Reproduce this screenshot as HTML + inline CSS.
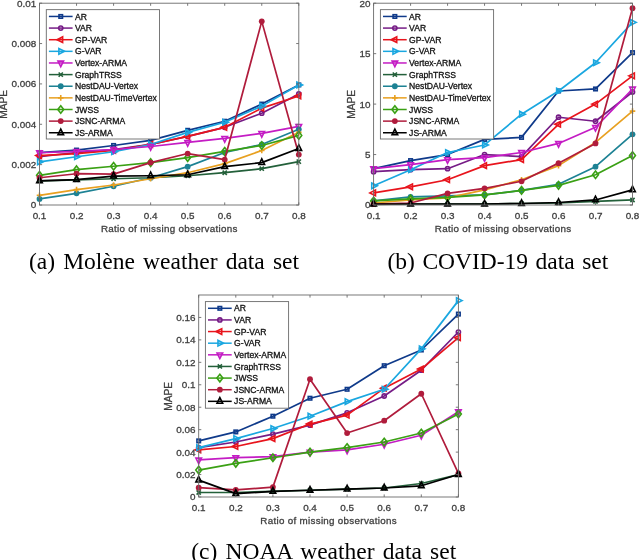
<!DOCTYPE html>
<html><head><meta charset="utf-8"><style>
html,body{margin:0;padding:0;background:#fff;width:640px;height:560px;overflow:hidden}
svg{display:block;will-change:transform;font-family:"Liberation Sans",sans-serif}
text.t{stroke:#404040;stroke-width:0.3px}
text.l{stroke:#111;stroke-width:0.3px}
</style></head><body>
<svg width="640" height="560" viewBox="0 0 640 560">
<rect width="640" height="560" fill="#fff"/>
<polyline points="39.50,152.53 76.54,150.11 113.59,145.47 150.63,140.42 187.67,130.33 224.71,121.25 261.76,104.10 298.80,84.93" fill="none" stroke="#0f3a8a" stroke-width="1.7" stroke-linejoin="round"/>
<rect x="37.75" y="150.78" width="3.50" height="3.50" fill="none" stroke="#0f3a8a" stroke-width="1.6"/>
<rect x="74.79" y="148.36" width="3.50" height="3.50" fill="none" stroke="#0f3a8a" stroke-width="1.6"/>
<rect x="111.84" y="143.72" width="3.50" height="3.50" fill="none" stroke="#0f3a8a" stroke-width="1.6"/>
<rect x="148.88" y="138.67" width="3.50" height="3.50" fill="none" stroke="#0f3a8a" stroke-width="1.6"/>
<rect x="185.92" y="128.58" width="3.50" height="3.50" fill="none" stroke="#0f3a8a" stroke-width="1.6"/>
<rect x="222.96" y="119.50" width="3.50" height="3.50" fill="none" stroke="#0f3a8a" stroke-width="1.6"/>
<rect x="260.01" y="102.35" width="3.50" height="3.50" fill="none" stroke="#0f3a8a" stroke-width="1.6"/>
<rect x="297.05" y="83.18" width="3.50" height="3.50" fill="none" stroke="#0f3a8a" stroke-width="1.6"/>
<polyline points="39.50,156.57 76.54,152.53 113.59,149.50 150.63,144.46 187.67,136.39 224.71,127.31 261.76,113.18 298.80,94.01" fill="none" stroke="#761c86" stroke-width="1.7" stroke-linejoin="round"/>
<circle cx="39.50" cy="156.57" r="2.1" fill="none" stroke="#761c86" stroke-width="1.6"/>
<circle cx="76.54" cy="152.53" r="2.1" fill="none" stroke="#761c86" stroke-width="1.6"/>
<circle cx="113.59" cy="149.50" r="2.1" fill="none" stroke="#761c86" stroke-width="1.6"/>
<circle cx="150.63" cy="144.46" r="2.1" fill="none" stroke="#761c86" stroke-width="1.6"/>
<circle cx="187.67" cy="136.39" r="2.1" fill="none" stroke="#761c86" stroke-width="1.6"/>
<circle cx="224.71" cy="127.31" r="2.1" fill="none" stroke="#761c86" stroke-width="1.6"/>
<circle cx="261.76" cy="113.18" r="2.1" fill="none" stroke="#761c86" stroke-width="1.6"/>
<circle cx="298.80" cy="94.01" r="2.1" fill="none" stroke="#761c86" stroke-width="1.6"/>
<polyline points="39.50,155.56 76.54,153.54 113.59,150.51 150.63,144.46 187.67,136.39 224.71,127.31 261.76,108.14 298.80,96.03" fill="none" stroke="#e8141c" stroke-width="1.7" stroke-linejoin="round"/>
<path d="M35.77,155.56L41.37,152.76L41.37,158.36Z" fill="none" stroke="#e8141c" stroke-width="1.6"/>
<path d="M72.81,153.54L78.41,150.74L78.41,156.34Z" fill="none" stroke="#e8141c" stroke-width="1.6"/>
<path d="M109.85,150.51L115.45,147.71L115.45,153.31Z" fill="none" stroke="#e8141c" stroke-width="1.6"/>
<path d="M146.90,144.46L152.50,141.66L152.50,147.26Z" fill="none" stroke="#e8141c" stroke-width="1.6"/>
<path d="M183.94,136.39L189.54,133.59L189.54,139.19Z" fill="none" stroke="#e8141c" stroke-width="1.6"/>
<path d="M220.98,127.31L226.58,124.51L226.58,130.11Z" fill="none" stroke="#e8141c" stroke-width="1.6"/>
<path d="M258.02,108.14L263.62,105.34L263.62,110.94Z" fill="none" stroke="#e8141c" stroke-width="1.6"/>
<path d="M295.07,96.03L300.67,93.23L300.67,98.83Z" fill="none" stroke="#e8141c" stroke-width="1.6"/>
<polyline points="39.50,161.81 76.54,156.77 113.59,151.72 150.63,144.46 187.67,132.35 224.71,122.26 261.76,106.12 298.80,84.93" fill="none" stroke="#1aa7e0" stroke-width="1.7" stroke-linejoin="round"/>
<path d="M43.23,161.81L37.63,159.01L37.63,164.61Z" fill="none" stroke="#1aa7e0" stroke-width="1.6"/>
<path d="M80.28,156.77L74.68,153.97L74.68,159.57Z" fill="none" stroke="#1aa7e0" stroke-width="1.6"/>
<path d="M117.32,151.72L111.72,148.92L111.72,154.52Z" fill="none" stroke="#1aa7e0" stroke-width="1.6"/>
<path d="M154.36,144.46L148.76,141.66L148.76,147.26Z" fill="none" stroke="#1aa7e0" stroke-width="1.6"/>
<path d="M191.40,132.35L185.80,129.55L185.80,135.15Z" fill="none" stroke="#1aa7e0" stroke-width="1.6"/>
<path d="M228.45,122.26L222.85,119.46L222.85,125.06Z" fill="none" stroke="#1aa7e0" stroke-width="1.6"/>
<path d="M265.49,106.12L259.89,103.32L259.89,108.92Z" fill="none" stroke="#1aa7e0" stroke-width="1.6"/>
<path d="M302.53,84.93L296.93,82.13L296.93,87.73Z" fill="none" stroke="#1aa7e0" stroke-width="1.6"/>
<polyline points="39.50,152.73 76.54,151.32 113.59,149.50 150.63,146.48 187.67,142.44 224.71,138.41 261.76,133.36 298.80,126.30" fill="none" stroke="#c41cc4" stroke-width="1.7" stroke-linejoin="round"/>
<path d="M39.50,156.47L36.70,150.87L42.30,150.87Z" fill="none" stroke="#c41cc4" stroke-width="1.6"/>
<path d="M76.54,155.05L73.74,149.45L79.34,149.45Z" fill="none" stroke="#c41cc4" stroke-width="1.6"/>
<path d="M113.59,153.24L110.79,147.64L116.39,147.64Z" fill="none" stroke="#c41cc4" stroke-width="1.6"/>
<path d="M150.63,150.21L147.83,144.61L153.43,144.61Z" fill="none" stroke="#c41cc4" stroke-width="1.6"/>
<path d="M187.67,146.18L184.87,140.58L190.47,140.58Z" fill="none" stroke="#c41cc4" stroke-width="1.6"/>
<path d="M224.71,142.14L221.91,136.54L227.51,136.54Z" fill="none" stroke="#c41cc4" stroke-width="1.6"/>
<path d="M261.76,137.09L258.96,131.49L264.56,131.49Z" fill="none" stroke="#c41cc4" stroke-width="1.6"/>
<path d="M298.80,130.03L296.00,124.43L301.60,124.43Z" fill="none" stroke="#c41cc4" stroke-width="1.6"/>
<polyline points="39.50,180.78 76.54,179.78 113.59,178.77 150.63,177.76 187.67,175.74 224.71,172.71 261.76,168.68 298.80,161.61" fill="none" stroke="#23603a" stroke-width="1.7" stroke-linejoin="round"/>
<path d="M37.40,178.68L41.60,182.88M37.40,182.88L41.60,178.68" stroke="#23603a" stroke-width="1.6"/>
<path d="M74.44,177.68L78.64,181.88M74.44,181.88L78.64,177.68" stroke="#23603a" stroke-width="1.6"/>
<path d="M111.49,176.67L115.69,180.87M111.49,180.87L115.69,176.67" stroke="#23603a" stroke-width="1.6"/>
<path d="M148.53,175.66L152.73,179.86M148.53,179.86L152.73,175.66" stroke="#23603a" stroke-width="1.6"/>
<path d="M185.57,173.64L189.77,177.84M185.57,177.84L189.77,173.64" stroke="#23603a" stroke-width="1.6"/>
<path d="M222.61,170.61L226.81,174.81M222.61,174.81L226.81,170.61" stroke="#23603a" stroke-width="1.6"/>
<path d="M259.66,166.58L263.86,170.78M259.66,170.78L263.86,166.58" stroke="#23603a" stroke-width="1.6"/>
<path d="M296.70,159.51L300.90,163.71M296.70,163.71L300.90,159.51" stroke="#23603a" stroke-width="1.6"/>
<polyline points="39.50,198.95 76.54,193.30 113.59,186.23 150.63,177.76 187.67,166.66 224.71,152.53 261.76,144.46 298.80,129.32" fill="none" stroke="#1d8294" stroke-width="1.7" stroke-linejoin="round"/>
<circle cx="39.50" cy="198.95" r="2.9" fill="#1d8294"/>
<circle cx="76.54" cy="193.30" r="2.9" fill="#1d8294"/>
<circle cx="113.59" cy="186.23" r="2.9" fill="#1d8294"/>
<circle cx="150.63" cy="177.76" r="2.9" fill="#1d8294"/>
<circle cx="187.67" cy="166.66" r="2.9" fill="#1d8294"/>
<circle cx="224.71" cy="152.53" r="2.9" fill="#1d8294"/>
<circle cx="261.76" cy="144.46" r="2.9" fill="#1d8294"/>
<circle cx="298.80" cy="129.32" r="2.9" fill="#1d8294"/>
<polyline points="39.50,195.31 76.54,189.66 113.59,185.02 150.63,178.77 187.67,172.71 224.71,163.63 261.76,150.51 298.80,132.35" fill="none" stroke="#e8a020" stroke-width="1.7" stroke-linejoin="round"/>
<path d="M36.70,195.31L42.30,195.31M39.50,192.51L39.50,198.11" stroke="#e8a020" stroke-width="1.6"/>
<path d="M73.74,189.66L79.34,189.66M76.54,186.86L76.54,192.46" stroke="#e8a020" stroke-width="1.6"/>
<path d="M110.79,185.02L116.39,185.02M113.59,182.22L113.59,187.82" stroke="#e8a020" stroke-width="1.6"/>
<path d="M147.83,178.77L153.43,178.77M150.63,175.97L150.63,181.57" stroke="#e8a020" stroke-width="1.6"/>
<path d="M184.87,172.71L190.47,172.71M187.67,169.91L187.67,175.51" stroke="#e8a020" stroke-width="1.6"/>
<path d="M221.91,163.63L227.51,163.63M224.71,160.83L224.71,166.43" stroke="#e8a020" stroke-width="1.6"/>
<path d="M258.96,150.51L264.56,150.51M261.76,147.71L261.76,153.31" stroke="#e8a020" stroke-width="1.6"/>
<path d="M296.00,132.35L301.60,132.35M298.80,129.55L298.80,135.15" stroke="#e8a020" stroke-width="1.6"/>
<polyline points="39.50,175.34 76.54,169.69 113.59,166.25 150.63,162.62 187.67,157.58 224.71,151.32 261.76,145.47 298.80,135.38" fill="none" stroke="#3aa014" stroke-width="1.7" stroke-linejoin="round"/>
<path d="M39.50,171.56L42.44,175.34L39.50,179.12L36.56,175.34Z" fill="none" stroke="#3aa014" stroke-width="1.6"/>
<path d="M76.54,165.91L79.48,169.69L76.54,173.47L73.60,169.69Z" fill="none" stroke="#3aa014" stroke-width="1.6"/>
<path d="M113.59,162.47L116.53,166.25L113.59,170.03L110.65,166.25Z" fill="none" stroke="#3aa014" stroke-width="1.6"/>
<path d="M150.63,158.84L153.57,162.62L150.63,166.40L147.69,162.62Z" fill="none" stroke="#3aa014" stroke-width="1.6"/>
<path d="M187.67,153.80L190.61,157.58L187.67,161.36L184.73,157.58Z" fill="none" stroke="#3aa014" stroke-width="1.6"/>
<path d="M224.71,147.54L227.65,151.32L224.71,155.10L221.77,151.32Z" fill="none" stroke="#3aa014" stroke-width="1.6"/>
<path d="M261.76,141.69L264.70,145.47L261.76,149.25L258.82,145.47Z" fill="none" stroke="#3aa014" stroke-width="1.6"/>
<path d="M298.80,131.60L301.74,135.38L298.80,139.16L295.86,135.38Z" fill="none" stroke="#3aa014" stroke-width="1.6"/>
<polyline points="39.50,177.76 76.54,173.72 113.59,174.12 150.63,162.62 187.67,153.54 224.71,159.59 261.76,21.36 298.80,154.55" fill="none" stroke="#b01c3c" stroke-width="1.7" stroke-linejoin="round"/>
<circle cx="39.50" cy="177.76" r="2.9" fill="#b01c3c"/>
<circle cx="76.54" cy="173.72" r="2.9" fill="#b01c3c"/>
<circle cx="113.59" cy="174.12" r="2.9" fill="#b01c3c"/>
<circle cx="150.63" cy="162.62" r="2.9" fill="#b01c3c"/>
<circle cx="187.67" cy="153.54" r="2.9" fill="#b01c3c"/>
<circle cx="224.71" cy="159.59" r="2.9" fill="#b01c3c"/>
<circle cx="261.76" cy="21.36" r="2.9" fill="#b01c3c"/>
<circle cx="298.80" cy="154.55" r="2.9" fill="#b01c3c"/>
<polyline points="39.50,180.78 76.54,179.57 113.59,176.14 150.63,175.74 187.67,174.73 224.71,166.66 261.76,162.62 298.80,148.50" fill="none" stroke="#000000" stroke-width="1.7" stroke-linejoin="round"/>
<path d="M39.50,177.05L36.70,182.65L42.30,182.65Z" fill="none" stroke="#000000" stroke-width="1.6"/>
<path d="M76.54,175.84L73.74,181.44L79.34,181.44Z" fill="none" stroke="#000000" stroke-width="1.6"/>
<path d="M113.59,172.41L110.79,178.01L116.39,178.01Z" fill="none" stroke="#000000" stroke-width="1.6"/>
<path d="M150.63,172.01L147.83,177.61L153.43,177.61Z" fill="none" stroke="#000000" stroke-width="1.6"/>
<path d="M187.67,171.00L184.87,176.60L190.47,176.60Z" fill="none" stroke="#000000" stroke-width="1.6"/>
<path d="M224.71,162.92L221.91,168.52L227.51,168.52Z" fill="none" stroke="#000000" stroke-width="1.6"/>
<path d="M261.76,158.89L258.96,164.49L264.56,164.49Z" fill="none" stroke="#000000" stroke-width="1.6"/>
<path d="M298.80,144.76L296.00,150.36L301.60,150.36Z" fill="none" stroke="#000000" stroke-width="1.6"/>
<rect x="39.5" y="3.2" width="259.30" height="201.80" fill="none" stroke="#6a6a6a" stroke-width="0.9"/>
<path d="M39.50,205.0v-2.6M39.50,3.2v2.6" stroke="#6a6a6a" stroke-width="0.9"/>
<text x="39.50" y="219.00" text-anchor="middle" class="t" font-size="9.9" fill="#404040">0.1</text>
<path d="M76.54,205.0v-2.6M76.54,3.2v2.6" stroke="#6a6a6a" stroke-width="0.9"/>
<text x="76.54" y="219.00" text-anchor="middle" class="t" font-size="9.9" fill="#404040">0.2</text>
<path d="M113.59,205.0v-2.6M113.59,3.2v2.6" stroke="#6a6a6a" stroke-width="0.9"/>
<text x="113.59" y="219.00" text-anchor="middle" class="t" font-size="9.9" fill="#404040">0.3</text>
<path d="M150.63,205.0v-2.6M150.63,3.2v2.6" stroke="#6a6a6a" stroke-width="0.9"/>
<text x="150.63" y="219.00" text-anchor="middle" class="t" font-size="9.9" fill="#404040">0.4</text>
<path d="M187.67,205.0v-2.6M187.67,3.2v2.6" stroke="#6a6a6a" stroke-width="0.9"/>
<text x="187.67" y="219.00" text-anchor="middle" class="t" font-size="9.9" fill="#404040">0.5</text>
<path d="M224.71,205.0v-2.6M224.71,3.2v2.6" stroke="#6a6a6a" stroke-width="0.9"/>
<text x="224.71" y="219.00" text-anchor="middle" class="t" font-size="9.9" fill="#404040">0.6</text>
<path d="M261.76,205.0v-2.6M261.76,3.2v2.6" stroke="#6a6a6a" stroke-width="0.9"/>
<text x="261.76" y="219.00" text-anchor="middle" class="t" font-size="9.9" fill="#404040">0.7</text>
<path d="M298.80,205.0v-2.6M298.80,3.2v2.6" stroke="#6a6a6a" stroke-width="0.9"/>
<text x="298.80" y="219.00" text-anchor="middle" class="t" font-size="9.9" fill="#404040">0.8</text>
<path d="M39.5,205.00h2.6M298.8,205.00h-2.6" stroke="#6a6a6a" stroke-width="0.9"/>
<text x="36.30" y="208.40" text-anchor="end" class="t" font-size="9.9" fill="#404040">0</text>
<path d="M39.5,164.64h2.6M298.8,164.64h-2.6" stroke="#6a6a6a" stroke-width="0.9"/>
<text x="36.30" y="168.04" text-anchor="end" class="t" font-size="9.9" fill="#404040">0.002</text>
<path d="M39.5,124.28h2.6M298.8,124.28h-2.6" stroke="#6a6a6a" stroke-width="0.9"/>
<text x="36.30" y="127.68" text-anchor="end" class="t" font-size="9.9" fill="#404040">0.004</text>
<path d="M39.5,83.92h2.6M298.8,83.92h-2.6" stroke="#6a6a6a" stroke-width="0.9"/>
<text x="36.30" y="87.32" text-anchor="end" class="t" font-size="9.9" fill="#404040">0.006</text>
<path d="M39.5,43.56h2.6M298.8,43.56h-2.6" stroke="#6a6a6a" stroke-width="0.9"/>
<text x="36.30" y="46.96" text-anchor="end" class="t" font-size="9.9" fill="#404040">0.008</text>
<path d="M39.5,3.20h2.6M298.8,3.20h-2.6" stroke="#6a6a6a" stroke-width="0.9"/>
<text x="36.30" y="6.60" text-anchor="end" class="t" font-size="9.9" fill="#404040">0.01</text>
<text x="169.30" y="232.0" letter-spacing="0.3" text-anchor="middle" class="t" font-size="9.8" fill="#404040">Ratio of missing observations</text>
<text transform="translate(7.1,104.40) rotate(-90)" text-anchor="middle" class="t" font-size="10.2" fill="#404040">MAPE</text>
<rect x="46.3" y="9.65" width="113.15" height="129.35" fill="#fff" stroke="#6a6a6a" stroke-width="0.9"/>
<path d="M48.90,16.45H72.60" stroke="#0f3a8a" stroke-width="1.5"/>
<rect x="59.00" y="14.70" width="3.50" height="3.50" fill="none" stroke="#0f3a8a" stroke-width="1.6"/>
<text x="75.00" y="19.55" class="l" font-size="8.6" fill="#111">AR</text>
<path d="M48.90,28.08H72.60" stroke="#761c86" stroke-width="1.5"/>
<circle cx="60.75" cy="28.08" r="2.1" fill="none" stroke="#761c86" stroke-width="1.6"/>
<text x="75.00" y="31.18" class="l" font-size="8.6" fill="#111">VAR</text>
<path d="M48.90,39.71H72.60" stroke="#e8141c" stroke-width="1.5"/>
<path d="M57.02,39.71L62.62,36.91L62.62,42.51Z" fill="none" stroke="#e8141c" stroke-width="1.6"/>
<text x="75.00" y="42.81" class="l" font-size="8.6" fill="#111">GP-VAR</text>
<path d="M48.90,51.34H72.60" stroke="#1aa7e0" stroke-width="1.5"/>
<path d="M64.48,51.34L58.88,48.54L58.88,54.14Z" fill="none" stroke="#1aa7e0" stroke-width="1.6"/>
<text x="75.00" y="54.44" class="l" font-size="8.6" fill="#111">G-VAR</text>
<path d="M48.90,62.97H72.60" stroke="#c41cc4" stroke-width="1.5"/>
<path d="M60.75,66.70L57.95,61.10L63.55,61.10Z" fill="none" stroke="#c41cc4" stroke-width="1.6"/>
<text x="75.00" y="66.07" class="l" font-size="8.6" fill="#111">Vertex-ARMA</text>
<path d="M48.90,74.60H72.60" stroke="#23603a" stroke-width="1.5"/>
<path d="M58.65,72.50L62.85,76.70M58.65,76.70L62.85,72.50" stroke="#23603a" stroke-width="1.6"/>
<text x="75.00" y="77.70" class="l" font-size="8.6" fill="#111">GraphTRSS</text>
<path d="M48.90,86.23H72.60" stroke="#1d8294" stroke-width="1.5"/>
<circle cx="60.75" cy="86.23" r="2.9" fill="#1d8294"/>
<text x="75.00" y="89.33" class="l" font-size="8.6" fill="#111">NestDAU-Vertex</text>
<path d="M48.90,97.86H72.60" stroke="#e8a020" stroke-width="1.5"/>
<path d="M57.95,97.86L63.55,97.86M60.75,95.06L60.75,100.66" stroke="#e8a020" stroke-width="1.6"/>
<text x="75.00" y="100.96" class="l" font-size="8.6" fill="#111">NestDAU-TimeVertex</text>
<path d="M48.90,109.49H72.60" stroke="#3aa014" stroke-width="1.5"/>
<path d="M60.75,105.71L63.69,109.49L60.75,113.27L57.81,109.49Z" fill="none" stroke="#3aa014" stroke-width="1.6"/>
<text x="75.00" y="112.59" class="l" font-size="8.6" fill="#111">JWSS</text>
<path d="M48.90,121.12H72.60" stroke="#b01c3c" stroke-width="1.5"/>
<circle cx="60.75" cy="121.12" r="2.9" fill="#b01c3c"/>
<text x="75.00" y="124.22" class="l" font-size="8.6" fill="#111">JSNC-ARMA</text>
<path d="M48.90,132.75H72.60" stroke="#000000" stroke-width="1.5"/>
<path d="M60.75,129.02L57.95,134.62L63.55,134.62Z" fill="none" stroke="#000000" stroke-width="1.6"/>
<text x="75.00" y="135.85" class="l" font-size="8.6" fill="#111">JS-ARMA</text>
<polyline points="373.60,168.68 410.59,160.60 447.57,154.55 484.56,139.41 521.54,137.40 558.53,90.98 595.51,88.97 632.50,52.64" fill="none" stroke="#0f3a8a" stroke-width="1.7" stroke-linejoin="round"/>
<rect x="371.85" y="166.93" width="3.50" height="3.50" fill="none" stroke="#0f3a8a" stroke-width="1.6"/>
<rect x="408.84" y="158.85" width="3.50" height="3.50" fill="none" stroke="#0f3a8a" stroke-width="1.6"/>
<rect x="445.82" y="152.80" width="3.50" height="3.50" fill="none" stroke="#0f3a8a" stroke-width="1.6"/>
<rect x="482.81" y="137.66" width="3.50" height="3.50" fill="none" stroke="#0f3a8a" stroke-width="1.6"/>
<rect x="519.79" y="135.65" width="3.50" height="3.50" fill="none" stroke="#0f3a8a" stroke-width="1.6"/>
<rect x="556.78" y="89.23" width="3.50" height="3.50" fill="none" stroke="#0f3a8a" stroke-width="1.6"/>
<rect x="593.76" y="87.22" width="3.50" height="3.50" fill="none" stroke="#0f3a8a" stroke-width="1.6"/>
<rect x="630.75" y="50.89" width="3.50" height="3.50" fill="none" stroke="#0f3a8a" stroke-width="1.6"/>
<polyline points="373.60,171.70 410.59,169.69 447.57,168.68 484.56,154.55 521.54,156.57 558.53,117.22 595.51,121.25 632.50,91.99" fill="none" stroke="#761c86" stroke-width="1.7" stroke-linejoin="round"/>
<circle cx="373.60" cy="171.70" r="2.1" fill="none" stroke="#761c86" stroke-width="1.6"/>
<circle cx="410.59" cy="169.69" r="2.1" fill="none" stroke="#761c86" stroke-width="1.6"/>
<circle cx="447.57" cy="168.68" r="2.1" fill="none" stroke="#761c86" stroke-width="1.6"/>
<circle cx="484.56" cy="154.55" r="2.1" fill="none" stroke="#761c86" stroke-width="1.6"/>
<circle cx="521.54" cy="156.57" r="2.1" fill="none" stroke="#761c86" stroke-width="1.6"/>
<circle cx="558.53" cy="117.22" r="2.1" fill="none" stroke="#761c86" stroke-width="1.6"/>
<circle cx="595.51" cy="121.25" r="2.1" fill="none" stroke="#761c86" stroke-width="1.6"/>
<circle cx="632.50" cy="91.99" r="2.1" fill="none" stroke="#761c86" stroke-width="1.6"/>
<polyline points="373.60,192.89 410.59,186.84 447.57,179.78 484.56,165.65 521.54,159.59 558.53,124.28 595.51,104.10 632.50,75.85" fill="none" stroke="#e8141c" stroke-width="1.7" stroke-linejoin="round"/>
<path d="M369.87,192.89L375.47,190.09L375.47,195.69Z" fill="none" stroke="#e8141c" stroke-width="1.6"/>
<path d="M406.85,186.84L412.45,184.04L412.45,189.64Z" fill="none" stroke="#e8141c" stroke-width="1.6"/>
<path d="M443.84,179.78L449.44,176.97L449.44,182.58Z" fill="none" stroke="#e8141c" stroke-width="1.6"/>
<path d="M480.82,165.65L486.42,162.85L486.42,168.45Z" fill="none" stroke="#e8141c" stroke-width="1.6"/>
<path d="M517.81,159.59L523.41,156.79L523.41,162.40Z" fill="none" stroke="#e8141c" stroke-width="1.6"/>
<path d="M554.80,124.28L560.40,121.48L560.40,127.08Z" fill="none" stroke="#e8141c" stroke-width="1.6"/>
<path d="M591.78,104.10L597.38,101.30L597.38,106.90Z" fill="none" stroke="#e8141c" stroke-width="1.6"/>
<path d="M628.77,75.85L634.37,73.05L634.37,78.65Z" fill="none" stroke="#e8141c" stroke-width="1.6"/>
<polyline points="373.60,185.83 410.59,169.69 447.57,152.53 484.56,144.96 521.54,114.19 558.53,90.98 595.51,62.73 632.50,22.37" fill="none" stroke="#1aa7e0" stroke-width="1.7" stroke-linejoin="round"/>
<path d="M377.33,185.83L371.73,183.03L371.73,188.63Z" fill="none" stroke="#1aa7e0" stroke-width="1.6"/>
<path d="M414.32,169.69L408.72,166.88L408.72,172.49Z" fill="none" stroke="#1aa7e0" stroke-width="1.6"/>
<path d="M451.30,152.53L445.70,149.73L445.70,155.33Z" fill="none" stroke="#1aa7e0" stroke-width="1.6"/>
<path d="M488.29,144.96L482.69,142.16L482.69,147.76Z" fill="none" stroke="#1aa7e0" stroke-width="1.6"/>
<path d="M525.28,114.19L519.68,111.39L519.68,116.99Z" fill="none" stroke="#1aa7e0" stroke-width="1.6"/>
<path d="M562.26,90.98L556.66,88.18L556.66,93.78Z" fill="none" stroke="#1aa7e0" stroke-width="1.6"/>
<path d="M599.25,62.73L593.65,59.93L593.65,65.53Z" fill="none" stroke="#1aa7e0" stroke-width="1.6"/>
<path d="M636.23,22.37L630.63,19.57L630.63,25.17Z" fill="none" stroke="#1aa7e0" stroke-width="1.6"/>
<polyline points="373.60,168.68 410.59,164.64 447.57,159.59 484.56,157.58 521.54,152.53 558.53,143.45 595.51,127.31 632.50,88.97" fill="none" stroke="#c41cc4" stroke-width="1.7" stroke-linejoin="round"/>
<path d="M373.60,172.41L370.80,166.81L376.40,166.81Z" fill="none" stroke="#c41cc4" stroke-width="1.6"/>
<path d="M410.59,168.37L407.79,162.77L413.39,162.77Z" fill="none" stroke="#c41cc4" stroke-width="1.6"/>
<path d="M447.57,163.33L444.77,157.73L450.37,157.73Z" fill="none" stroke="#c41cc4" stroke-width="1.6"/>
<path d="M484.56,161.31L481.76,155.71L487.36,155.71Z" fill="none" stroke="#c41cc4" stroke-width="1.6"/>
<path d="M521.54,156.27L518.74,150.67L524.34,150.67Z" fill="none" stroke="#c41cc4" stroke-width="1.6"/>
<path d="M558.53,147.18L555.73,141.58L561.33,141.58Z" fill="none" stroke="#c41cc4" stroke-width="1.6"/>
<path d="M595.51,131.04L592.71,125.44L598.31,125.44Z" fill="none" stroke="#c41cc4" stroke-width="1.6"/>
<path d="M632.50,92.70L629.70,87.10L635.30,87.10Z" fill="none" stroke="#c41cc4" stroke-width="1.6"/>
<polyline points="373.60,204.50 410.59,203.99 447.57,203.99 484.56,203.99 521.54,203.49 558.53,202.98 595.51,201.47 632.50,199.96" fill="none" stroke="#23603a" stroke-width="1.7" stroke-linejoin="round"/>
<path d="M371.50,202.40L375.70,206.60M371.50,206.60L375.70,202.40" stroke="#23603a" stroke-width="1.6"/>
<path d="M408.49,201.89L412.69,206.09M408.49,206.09L412.69,201.89" stroke="#23603a" stroke-width="1.6"/>
<path d="M445.47,201.89L449.67,206.09M445.47,206.09L449.67,201.89" stroke="#23603a" stroke-width="1.6"/>
<path d="M482.46,201.89L486.66,206.09M482.46,206.09L486.66,201.89" stroke="#23603a" stroke-width="1.6"/>
<path d="M519.44,201.39L523.64,205.59M519.44,205.59L523.64,201.39" stroke="#23603a" stroke-width="1.6"/>
<path d="M556.43,200.88L560.63,205.08M556.43,205.08L560.63,200.88" stroke="#23603a" stroke-width="1.6"/>
<path d="M593.41,199.37L597.61,203.57M593.41,203.57L597.61,199.37" stroke="#23603a" stroke-width="1.6"/>
<path d="M630.40,197.86L634.60,202.06M630.40,202.06L634.60,197.86" stroke="#23603a" stroke-width="1.6"/>
<polyline points="373.60,200.96 410.59,196.93 447.57,195.92 484.56,194.91 521.54,190.37 558.53,184.32 595.51,166.66 632.50,134.37" fill="none" stroke="#1d8294" stroke-width="1.7" stroke-linejoin="round"/>
<circle cx="373.60" cy="200.96" r="2.9" fill="#1d8294"/>
<circle cx="410.59" cy="196.93" r="2.9" fill="#1d8294"/>
<circle cx="447.57" cy="195.92" r="2.9" fill="#1d8294"/>
<circle cx="484.56" cy="194.91" r="2.9" fill="#1d8294"/>
<circle cx="521.54" cy="190.37" r="2.9" fill="#1d8294"/>
<circle cx="558.53" cy="184.32" r="2.9" fill="#1d8294"/>
<circle cx="595.51" cy="166.66" r="2.9" fill="#1d8294"/>
<circle cx="632.50" cy="134.37" r="2.9" fill="#1d8294"/>
<polyline points="373.60,202.98 410.59,199.96 447.57,197.94 484.56,189.87 521.54,179.78 558.53,165.65 595.51,142.44 632.50,111.16" fill="none" stroke="#e8a020" stroke-width="1.7" stroke-linejoin="round"/>
<path d="M370.80,202.98L376.40,202.98M373.60,200.18L373.60,205.78" stroke="#e8a020" stroke-width="1.6"/>
<path d="M407.79,199.96L413.39,199.96M410.59,197.16L410.59,202.76" stroke="#e8a020" stroke-width="1.6"/>
<path d="M444.77,197.94L450.37,197.94M447.57,195.14L447.57,200.74" stroke="#e8a020" stroke-width="1.6"/>
<path d="M481.76,189.87L487.36,189.87M484.56,187.06L484.56,192.67" stroke="#e8a020" stroke-width="1.6"/>
<path d="M518.74,179.78L524.34,179.78M521.54,176.97L521.54,182.58" stroke="#e8a020" stroke-width="1.6"/>
<path d="M555.73,165.65L561.33,165.65M558.53,162.85L558.53,168.45" stroke="#e8a020" stroke-width="1.6"/>
<path d="M592.71,142.44L598.31,142.44M595.51,139.64L595.51,145.24" stroke="#e8a020" stroke-width="1.6"/>
<path d="M629.70,111.16L635.30,111.16M632.50,108.36L632.50,113.96" stroke="#e8a020" stroke-width="1.6"/>
<polyline points="373.60,200.96 410.59,198.95 447.57,197.43 484.56,194.91 521.54,190.37 558.53,185.32 595.51,174.73 632.50,155.56" fill="none" stroke="#3aa014" stroke-width="1.7" stroke-linejoin="round"/>
<path d="M373.60,197.18L376.54,200.96L373.60,204.74L370.66,200.96Z" fill="none" stroke="#3aa014" stroke-width="1.6"/>
<path d="M410.59,195.17L413.53,198.95L410.59,202.73L407.65,198.95Z" fill="none" stroke="#3aa014" stroke-width="1.6"/>
<path d="M447.57,193.65L450.51,197.43L447.57,201.21L444.63,197.43Z" fill="none" stroke="#3aa014" stroke-width="1.6"/>
<path d="M484.56,191.13L487.50,194.91L484.56,198.69L481.62,194.91Z" fill="none" stroke="#3aa014" stroke-width="1.6"/>
<path d="M521.54,186.59L524.48,190.37L521.54,194.15L518.60,190.37Z" fill="none" stroke="#3aa014" stroke-width="1.6"/>
<path d="M558.53,181.54L561.47,185.32L558.53,189.10L555.59,185.32Z" fill="none" stroke="#3aa014" stroke-width="1.6"/>
<path d="M595.51,170.95L598.45,174.73L595.51,178.51L592.57,174.73Z" fill="none" stroke="#3aa014" stroke-width="1.6"/>
<path d="M632.50,151.78L635.44,155.56L632.50,159.34L629.56,155.56Z" fill="none" stroke="#3aa014" stroke-width="1.6"/>
<polyline points="373.60,203.99 410.59,202.98 447.57,193.40 484.56,188.35 521.54,181.29 558.53,163.13 595.51,143.45 632.50,8.25" fill="none" stroke="#b01c3c" stroke-width="1.7" stroke-linejoin="round"/>
<circle cx="373.60" cy="203.99" r="2.9" fill="#b01c3c"/>
<circle cx="410.59" cy="202.98" r="2.9" fill="#b01c3c"/>
<circle cx="447.57" cy="193.40" r="2.9" fill="#b01c3c"/>
<circle cx="484.56" cy="188.35" r="2.9" fill="#b01c3c"/>
<circle cx="521.54" cy="181.29" r="2.9" fill="#b01c3c"/>
<circle cx="558.53" cy="163.13" r="2.9" fill="#b01c3c"/>
<circle cx="595.51" cy="143.45" r="2.9" fill="#b01c3c"/>
<circle cx="632.50" cy="8.25" r="2.9" fill="#b01c3c"/>
<polyline points="373.60,203.99 410.59,203.99 447.57,203.99 484.56,203.99 521.54,203.49 558.53,202.48 595.51,199.96 632.50,189.87" fill="none" stroke="#000000" stroke-width="1.7" stroke-linejoin="round"/>
<path d="M373.60,200.26L370.80,205.86L376.40,205.86Z" fill="none" stroke="#000000" stroke-width="1.6"/>
<path d="M410.59,200.26L407.79,205.86L413.39,205.86Z" fill="none" stroke="#000000" stroke-width="1.6"/>
<path d="M447.57,200.26L444.77,205.86L450.37,205.86Z" fill="none" stroke="#000000" stroke-width="1.6"/>
<path d="M484.56,200.26L481.76,205.86L487.36,205.86Z" fill="none" stroke="#000000" stroke-width="1.6"/>
<path d="M521.54,199.75L518.74,205.35L524.34,205.35Z" fill="none" stroke="#000000" stroke-width="1.6"/>
<path d="M558.53,198.74L555.73,204.34L561.33,204.34Z" fill="none" stroke="#000000" stroke-width="1.6"/>
<path d="M595.51,196.22L592.71,201.82L598.31,201.82Z" fill="none" stroke="#000000" stroke-width="1.6"/>
<path d="M632.50,186.13L629.70,191.73L635.30,191.73Z" fill="none" stroke="#000000" stroke-width="1.6"/>
<rect x="373.6" y="3.2" width="258.90" height="201.80" fill="none" stroke="#6a6a6a" stroke-width="0.9"/>
<path d="M373.60,205.0v-2.6M373.60,3.2v2.6" stroke="#6a6a6a" stroke-width="0.9"/>
<text x="373.60" y="219.00" text-anchor="middle" class="t" font-size="9.9" fill="#404040">0.1</text>
<path d="M410.59,205.0v-2.6M410.59,3.2v2.6" stroke="#6a6a6a" stroke-width="0.9"/>
<text x="410.59" y="219.00" text-anchor="middle" class="t" font-size="9.9" fill="#404040">0.2</text>
<path d="M447.57,205.0v-2.6M447.57,3.2v2.6" stroke="#6a6a6a" stroke-width="0.9"/>
<text x="447.57" y="219.00" text-anchor="middle" class="t" font-size="9.9" fill="#404040">0.3</text>
<path d="M484.56,205.0v-2.6M484.56,3.2v2.6" stroke="#6a6a6a" stroke-width="0.9"/>
<text x="484.56" y="219.00" text-anchor="middle" class="t" font-size="9.9" fill="#404040">0.4</text>
<path d="M521.54,205.0v-2.6M521.54,3.2v2.6" stroke="#6a6a6a" stroke-width="0.9"/>
<text x="521.54" y="219.00" text-anchor="middle" class="t" font-size="9.9" fill="#404040">0.5</text>
<path d="M558.53,205.0v-2.6M558.53,3.2v2.6" stroke="#6a6a6a" stroke-width="0.9"/>
<text x="558.53" y="219.00" text-anchor="middle" class="t" font-size="9.9" fill="#404040">0.6</text>
<path d="M595.51,205.0v-2.6M595.51,3.2v2.6" stroke="#6a6a6a" stroke-width="0.9"/>
<text x="595.51" y="219.00" text-anchor="middle" class="t" font-size="9.9" fill="#404040">0.7</text>
<path d="M632.50,205.0v-2.6M632.50,3.2v2.6" stroke="#6a6a6a" stroke-width="0.9"/>
<text x="632.50" y="219.00" text-anchor="middle" class="t" font-size="9.9" fill="#404040">0.8</text>
<path d="M373.6,205.00h2.6M632.5,205.00h-2.6" stroke="#6a6a6a" stroke-width="0.9"/>
<text x="370.40" y="208.40" text-anchor="end" class="t" font-size="9.9" fill="#404040">0</text>
<path d="M373.6,154.55h2.6M632.5,154.55h-2.6" stroke="#6a6a6a" stroke-width="0.9"/>
<text x="370.40" y="157.95" text-anchor="end" class="t" font-size="9.9" fill="#404040">5</text>
<path d="M373.6,104.10h2.6M632.5,104.10h-2.6" stroke="#6a6a6a" stroke-width="0.9"/>
<text x="370.40" y="107.50" text-anchor="end" class="t" font-size="9.9" fill="#404040">10</text>
<path d="M373.6,53.65h2.6M632.5,53.65h-2.6" stroke="#6a6a6a" stroke-width="0.9"/>
<text x="370.40" y="57.05" text-anchor="end" class="t" font-size="9.9" fill="#404040">15</text>
<path d="M373.6,3.20h2.6M632.5,3.20h-2.6" stroke="#6a6a6a" stroke-width="0.9"/>
<text x="370.40" y="6.60" text-anchor="end" class="t" font-size="9.9" fill="#404040">20</text>
<text x="503.20" y="232.0" letter-spacing="0.3" text-anchor="middle" class="t" font-size="9.8" fill="#404040">Ratio of missing observations</text>
<text transform="translate(354.6,104.40) rotate(-90)" text-anchor="middle" class="t" font-size="10.2" fill="#404040">MAPE</text>
<rect x="380.4" y="9.65" width="113.20" height="129.35" fill="#fff" stroke="#6a6a6a" stroke-width="0.9"/>
<path d="M383.00,16.45H406.70" stroke="#0f3a8a" stroke-width="1.5"/>
<rect x="393.10" y="14.70" width="3.50" height="3.50" fill="none" stroke="#0f3a8a" stroke-width="1.6"/>
<text x="409.10" y="19.55" class="l" font-size="8.6" fill="#111">AR</text>
<path d="M383.00,28.08H406.70" stroke="#761c86" stroke-width="1.5"/>
<circle cx="394.85" cy="28.08" r="2.1" fill="none" stroke="#761c86" stroke-width="1.6"/>
<text x="409.10" y="31.18" class="l" font-size="8.6" fill="#111">VAR</text>
<path d="M383.00,39.71H406.70" stroke="#e8141c" stroke-width="1.5"/>
<path d="M391.12,39.71L396.72,36.91L396.72,42.51Z" fill="none" stroke="#e8141c" stroke-width="1.6"/>
<text x="409.10" y="42.81" class="l" font-size="8.6" fill="#111">GP-VAR</text>
<path d="M383.00,51.34H406.70" stroke="#1aa7e0" stroke-width="1.5"/>
<path d="M398.58,51.34L392.98,48.54L392.98,54.14Z" fill="none" stroke="#1aa7e0" stroke-width="1.6"/>
<text x="409.10" y="54.44" class="l" font-size="8.6" fill="#111">G-VAR</text>
<path d="M383.00,62.97H406.70" stroke="#c41cc4" stroke-width="1.5"/>
<path d="M394.85,66.70L392.05,61.10L397.65,61.10Z" fill="none" stroke="#c41cc4" stroke-width="1.6"/>
<text x="409.10" y="66.07" class="l" font-size="8.6" fill="#111">Vertex-ARMA</text>
<path d="M383.00,74.60H406.70" stroke="#23603a" stroke-width="1.5"/>
<path d="M392.75,72.50L396.95,76.70M392.75,76.70L396.95,72.50" stroke="#23603a" stroke-width="1.6"/>
<text x="409.10" y="77.70" class="l" font-size="8.6" fill="#111">GraphTRSS</text>
<path d="M383.00,86.23H406.70" stroke="#1d8294" stroke-width="1.5"/>
<circle cx="394.85" cy="86.23" r="2.9" fill="#1d8294"/>
<text x="409.10" y="89.33" class="l" font-size="8.6" fill="#111">NestDAU-Vertex</text>
<path d="M383.00,97.86H406.70" stroke="#e8a020" stroke-width="1.5"/>
<path d="M392.05,97.86L397.65,97.86M394.85,95.06L394.85,100.66" stroke="#e8a020" stroke-width="1.6"/>
<text x="409.10" y="100.96" class="l" font-size="8.6" fill="#111">NestDAU-TimeVertex</text>
<path d="M383.00,109.49H406.70" stroke="#3aa014" stroke-width="1.5"/>
<path d="M394.85,105.71L397.79,109.49L394.85,113.27L391.91,109.49Z" fill="none" stroke="#3aa014" stroke-width="1.6"/>
<text x="409.10" y="112.59" class="l" font-size="8.6" fill="#111">JWSS</text>
<path d="M383.00,121.12H406.70" stroke="#b01c3c" stroke-width="1.5"/>
<circle cx="394.85" cy="121.12" r="2.9" fill="#b01c3c"/>
<text x="409.10" y="124.22" class="l" font-size="8.6" fill="#111">JSNC-ARMA</text>
<path d="M383.00,132.75H406.70" stroke="#000000" stroke-width="1.5"/>
<path d="M394.85,129.02L392.05,134.62L397.65,134.62Z" fill="none" stroke="#000000" stroke-width="1.6"/>
<text x="409.10" y="135.85" class="l" font-size="8.6" fill="#111">JS-ARMA</text>
<polyline points="198.70,440.89 235.80,431.91 272.90,416.20 310.00,398.24 347.10,389.27 384.20,365.70 421.30,349.99 458.40,314.08" fill="none" stroke="#0f3a8a" stroke-width="1.7" stroke-linejoin="round"/>
<rect x="196.95" y="439.14" width="3.50" height="3.50" fill="none" stroke="#0f3a8a" stroke-width="1.6"/>
<rect x="234.05" y="430.16" width="3.50" height="3.50" fill="none" stroke="#0f3a8a" stroke-width="1.6"/>
<rect x="271.15" y="414.45" width="3.50" height="3.50" fill="none" stroke="#0f3a8a" stroke-width="1.6"/>
<rect x="308.25" y="396.49" width="3.50" height="3.50" fill="none" stroke="#0f3a8a" stroke-width="1.6"/>
<rect x="345.35" y="387.52" width="3.50" height="3.50" fill="none" stroke="#0f3a8a" stroke-width="1.6"/>
<rect x="382.45" y="363.95" width="3.50" height="3.50" fill="none" stroke="#0f3a8a" stroke-width="1.6"/>
<rect x="419.55" y="348.24" width="3.50" height="3.50" fill="none" stroke="#0f3a8a" stroke-width="1.6"/>
<rect x="456.65" y="312.33" width="3.50" height="3.50" fill="none" stroke="#0f3a8a" stroke-width="1.6"/>
<polyline points="198.70,447.62 235.80,442.01 272.90,434.16 310.00,425.18 347.10,412.83 384.20,396.00 421.30,370.19 458.40,332.03" fill="none" stroke="#761c86" stroke-width="1.7" stroke-linejoin="round"/>
<circle cx="198.70" cy="447.62" r="2.1" fill="none" stroke="#761c86" stroke-width="1.6"/>
<circle cx="235.80" cy="442.01" r="2.1" fill="none" stroke="#761c86" stroke-width="1.6"/>
<circle cx="272.90" cy="434.16" r="2.1" fill="none" stroke="#761c86" stroke-width="1.6"/>
<circle cx="310.00" cy="425.18" r="2.1" fill="none" stroke="#761c86" stroke-width="1.6"/>
<circle cx="347.10" cy="412.83" r="2.1" fill="none" stroke="#761c86" stroke-width="1.6"/>
<circle cx="384.20" cy="396.00" r="2.1" fill="none" stroke="#761c86" stroke-width="1.6"/>
<circle cx="421.30" cy="370.19" r="2.1" fill="none" stroke="#761c86" stroke-width="1.6"/>
<circle cx="458.40" cy="332.03" r="2.1" fill="none" stroke="#761c86" stroke-width="1.6"/>
<polyline points="198.70,449.87 235.80,446.50 272.90,438.64 310.00,424.06 347.10,415.08 384.20,388.14 421.30,369.07 458.40,337.64" fill="none" stroke="#e8141c" stroke-width="1.7" stroke-linejoin="round"/>
<path d="M194.97,449.87L200.57,447.07L200.57,452.67Z" fill="none" stroke="#e8141c" stroke-width="1.6"/>
<path d="M232.07,446.50L237.67,443.70L237.67,449.30Z" fill="none" stroke="#e8141c" stroke-width="1.6"/>
<path d="M269.17,438.64L274.77,435.84L274.77,441.44Z" fill="none" stroke="#e8141c" stroke-width="1.6"/>
<path d="M306.27,424.06L311.87,421.26L311.87,426.86Z" fill="none" stroke="#e8141c" stroke-width="1.6"/>
<path d="M343.37,415.08L348.97,412.28L348.97,417.88Z" fill="none" stroke="#e8141c" stroke-width="1.6"/>
<path d="M380.47,388.14L386.07,385.34L386.07,390.94Z" fill="none" stroke="#e8141c" stroke-width="1.6"/>
<path d="M417.57,369.07L423.17,366.27L423.17,371.87Z" fill="none" stroke="#e8141c" stroke-width="1.6"/>
<path d="M454.67,337.64L460.27,334.84L460.27,340.44Z" fill="none" stroke="#e8141c" stroke-width="1.6"/>
<polyline points="198.70,447.62 235.80,438.64 272.90,428.54 310.00,416.20 347.10,401.61 384.20,389.27 421.30,348.87 458.40,300.61" fill="none" stroke="#1aa7e0" stroke-width="1.7" stroke-linejoin="round"/>
<path d="M202.43,447.62L196.83,444.82L196.83,450.42Z" fill="none" stroke="#1aa7e0" stroke-width="1.6"/>
<path d="M239.53,438.64L233.93,435.84L233.93,441.44Z" fill="none" stroke="#1aa7e0" stroke-width="1.6"/>
<path d="M276.63,428.54L271.03,425.74L271.03,431.34Z" fill="none" stroke="#1aa7e0" stroke-width="1.6"/>
<path d="M313.73,416.20L308.13,413.40L308.13,419.00Z" fill="none" stroke="#1aa7e0" stroke-width="1.6"/>
<path d="M350.83,401.61L345.23,398.81L345.23,404.41Z" fill="none" stroke="#1aa7e0" stroke-width="1.6"/>
<path d="M387.93,389.27L382.33,386.47L382.33,392.07Z" fill="none" stroke="#1aa7e0" stroke-width="1.6"/>
<path d="M425.03,348.87L419.43,346.07L419.43,351.67Z" fill="none" stroke="#1aa7e0" stroke-width="1.6"/>
<path d="M462.13,300.61L456.53,297.81L456.53,303.41Z" fill="none" stroke="#1aa7e0" stroke-width="1.6"/>
<polyline points="198.70,459.97 235.80,457.72 272.90,456.60 310.00,452.11 347.10,449.87 384.20,444.26 421.30,435.28 458.40,411.71" fill="none" stroke="#c41cc4" stroke-width="1.7" stroke-linejoin="round"/>
<path d="M198.70,463.70L195.90,458.10L201.50,458.10Z" fill="none" stroke="#c41cc4" stroke-width="1.6"/>
<path d="M235.80,461.46L233.00,455.86L238.60,455.86Z" fill="none" stroke="#c41cc4" stroke-width="1.6"/>
<path d="M272.90,460.33L270.10,454.73L275.70,454.73Z" fill="none" stroke="#c41cc4" stroke-width="1.6"/>
<path d="M310.00,455.84L307.20,450.24L312.80,450.24Z" fill="none" stroke="#c41cc4" stroke-width="1.6"/>
<path d="M347.10,453.60L344.30,448.00L349.90,448.00Z" fill="none" stroke="#c41cc4" stroke-width="1.6"/>
<path d="M384.20,447.99L381.40,442.39L387.00,442.39Z" fill="none" stroke="#c41cc4" stroke-width="1.6"/>
<path d="M421.30,439.01L418.50,433.41L424.10,433.41Z" fill="none" stroke="#c41cc4" stroke-width="1.6"/>
<path d="M458.40,415.44L455.60,409.84L461.20,409.84Z" fill="none" stroke="#c41cc4" stroke-width="1.6"/>
<polyline points="198.70,492.51 235.80,492.51 272.90,491.39 310.00,490.27 347.10,489.14 384.20,488.02 421.30,483.53 458.40,474.56" fill="none" stroke="#23603a" stroke-width="1.7" stroke-linejoin="round"/>
<path d="M196.60,490.41L200.80,494.61M196.60,494.61L200.80,490.41" stroke="#23603a" stroke-width="1.6"/>
<path d="M233.70,490.41L237.90,494.61M233.70,494.61L237.90,490.41" stroke="#23603a" stroke-width="1.6"/>
<path d="M270.80,489.29L275.00,493.49M270.80,493.49L275.00,489.29" stroke="#23603a" stroke-width="1.6"/>
<path d="M307.90,488.17L312.10,492.37M307.90,492.37L312.10,488.17" stroke="#23603a" stroke-width="1.6"/>
<path d="M345.00,487.04L349.20,491.24M345.00,491.24L349.20,487.04" stroke="#23603a" stroke-width="1.6"/>
<path d="M382.10,485.92L386.30,490.12M382.10,490.12L386.30,485.92" stroke="#23603a" stroke-width="1.6"/>
<path d="M419.20,481.43L423.40,485.63M419.20,485.63L423.40,481.43" stroke="#23603a" stroke-width="1.6"/>
<path d="M456.30,472.46L460.50,476.66M456.30,476.66L460.50,472.46" stroke="#23603a" stroke-width="1.6"/>
<polyline points="198.70,470.07 235.80,463.33 272.90,457.72 310.00,452.11 347.10,447.62 384.20,442.01 421.30,433.03 458.40,413.96" fill="none" stroke="#3aa014" stroke-width="1.7" stroke-linejoin="round"/>
<path d="M198.70,466.29L201.64,470.07L198.70,473.85L195.76,470.07Z" fill="none" stroke="#3aa014" stroke-width="1.6"/>
<path d="M235.80,459.55L238.74,463.33L235.80,467.11L232.86,463.33Z" fill="none" stroke="#3aa014" stroke-width="1.6"/>
<path d="M272.90,453.94L275.84,457.72L272.90,461.50L269.96,457.72Z" fill="none" stroke="#3aa014" stroke-width="1.6"/>
<path d="M310.00,448.33L312.94,452.11L310.00,455.89L307.06,452.11Z" fill="none" stroke="#3aa014" stroke-width="1.6"/>
<path d="M347.10,443.84L350.04,447.62L347.10,451.40L344.16,447.62Z" fill="none" stroke="#3aa014" stroke-width="1.6"/>
<path d="M384.20,438.23L387.14,442.01L384.20,445.79L381.26,442.01Z" fill="none" stroke="#3aa014" stroke-width="1.6"/>
<path d="M421.30,429.25L424.24,433.03L421.30,436.81L418.36,433.03Z" fill="none" stroke="#3aa014" stroke-width="1.6"/>
<path d="M458.40,410.18L461.34,413.96L458.40,417.74L455.46,413.96Z" fill="none" stroke="#3aa014" stroke-width="1.6"/>
<polyline points="198.70,487.69 235.80,489.93 272.90,487.12 310.00,379.17 347.10,433.03 384.20,420.69 421.30,393.76 458.40,473.43" fill="none" stroke="#b01c3c" stroke-width="1.7" stroke-linejoin="round"/>
<circle cx="198.70" cy="487.69" r="2.9" fill="#b01c3c"/>
<circle cx="235.80" cy="489.93" r="2.9" fill="#b01c3c"/>
<circle cx="272.90" cy="487.12" r="2.9" fill="#b01c3c"/>
<circle cx="310.00" cy="379.17" r="2.9" fill="#b01c3c"/>
<circle cx="347.10" cy="433.03" r="2.9" fill="#b01c3c"/>
<circle cx="384.20" cy="420.69" r="2.9" fill="#b01c3c"/>
<circle cx="421.30" cy="393.76" r="2.9" fill="#b01c3c"/>
<circle cx="458.40" cy="473.43" r="2.9" fill="#b01c3c"/>
<polyline points="198.70,480.17 235.80,493.63 272.90,491.39 310.00,490.27 347.10,489.14 384.20,488.02 421.30,485.78 458.40,474.56" fill="none" stroke="#000000" stroke-width="1.7" stroke-linejoin="round"/>
<path d="M198.70,476.43L195.90,482.03L201.50,482.03Z" fill="none" stroke="#000000" stroke-width="1.6"/>
<path d="M235.80,489.90L233.00,495.50L238.60,495.50Z" fill="none" stroke="#000000" stroke-width="1.6"/>
<path d="M272.90,487.66L270.10,493.26L275.70,493.26Z" fill="none" stroke="#000000" stroke-width="1.6"/>
<path d="M310.00,486.53L307.20,492.13L312.80,492.13Z" fill="none" stroke="#000000" stroke-width="1.6"/>
<path d="M347.10,485.41L344.30,491.01L349.90,491.01Z" fill="none" stroke="#000000" stroke-width="1.6"/>
<path d="M384.20,484.29L381.40,489.89L387.00,489.89Z" fill="none" stroke="#000000" stroke-width="1.6"/>
<path d="M421.30,482.04L418.50,487.64L424.10,487.64Z" fill="none" stroke="#000000" stroke-width="1.6"/>
<path d="M458.40,470.82L455.60,476.42L461.20,476.42Z" fill="none" stroke="#000000" stroke-width="1.6"/>
<rect x="198.7" y="295.0" width="259.70" height="202.00" fill="none" stroke="#6a6a6a" stroke-width="0.9"/>
<path d="M198.70,497.0v-2.6M198.70,295.0v2.6" stroke="#6a6a6a" stroke-width="0.9"/>
<text x="198.70" y="511.00" text-anchor="middle" class="t" font-size="9.9" fill="#404040">0.1</text>
<path d="M235.80,497.0v-2.6M235.80,295.0v2.6" stroke="#6a6a6a" stroke-width="0.9"/>
<text x="235.80" y="511.00" text-anchor="middle" class="t" font-size="9.9" fill="#404040">0.2</text>
<path d="M272.90,497.0v-2.6M272.90,295.0v2.6" stroke="#6a6a6a" stroke-width="0.9"/>
<text x="272.90" y="511.00" text-anchor="middle" class="t" font-size="9.9" fill="#404040">0.3</text>
<path d="M310.00,497.0v-2.6M310.00,295.0v2.6" stroke="#6a6a6a" stroke-width="0.9"/>
<text x="310.00" y="511.00" text-anchor="middle" class="t" font-size="9.9" fill="#404040">0.4</text>
<path d="M347.10,497.0v-2.6M347.10,295.0v2.6" stroke="#6a6a6a" stroke-width="0.9"/>
<text x="347.10" y="511.00" text-anchor="middle" class="t" font-size="9.9" fill="#404040">0.5</text>
<path d="M384.20,497.0v-2.6M384.20,295.0v2.6" stroke="#6a6a6a" stroke-width="0.9"/>
<text x="384.20" y="511.00" text-anchor="middle" class="t" font-size="9.9" fill="#404040">0.6</text>
<path d="M421.30,497.0v-2.6M421.30,295.0v2.6" stroke="#6a6a6a" stroke-width="0.9"/>
<text x="421.30" y="511.00" text-anchor="middle" class="t" font-size="9.9" fill="#404040">0.7</text>
<path d="M458.40,497.0v-2.6M458.40,295.0v2.6" stroke="#6a6a6a" stroke-width="0.9"/>
<text x="458.40" y="511.00" text-anchor="middle" class="t" font-size="9.9" fill="#404040">0.8</text>
<path d="M198.7,497.00h2.6M458.4,497.00h-2.6" stroke="#6a6a6a" stroke-width="0.9"/>
<text x="195.50" y="500.40" text-anchor="end" class="t" font-size="9.9" fill="#404040">0</text>
<path d="M198.7,474.56h2.6M458.4,474.56h-2.6" stroke="#6a6a6a" stroke-width="0.9"/>
<text x="195.50" y="477.96" text-anchor="end" class="t" font-size="9.9" fill="#404040">0.02</text>
<path d="M198.7,452.11h2.6M458.4,452.11h-2.6" stroke="#6a6a6a" stroke-width="0.9"/>
<text x="195.50" y="455.51" text-anchor="end" class="t" font-size="9.9" fill="#404040">0.04</text>
<path d="M198.7,429.67h2.6M458.4,429.67h-2.6" stroke="#6a6a6a" stroke-width="0.9"/>
<text x="195.50" y="433.07" text-anchor="end" class="t" font-size="9.9" fill="#404040">0.06</text>
<path d="M198.7,407.22h2.6M458.4,407.22h-2.6" stroke="#6a6a6a" stroke-width="0.9"/>
<text x="195.50" y="410.62" text-anchor="end" class="t" font-size="9.9" fill="#404040">0.08</text>
<path d="M198.7,384.78h2.6M458.4,384.78h-2.6" stroke="#6a6a6a" stroke-width="0.9"/>
<text x="195.50" y="388.18" text-anchor="end" class="t" font-size="9.9" fill="#404040">0.1</text>
<path d="M198.7,362.33h2.6M458.4,362.33h-2.6" stroke="#6a6a6a" stroke-width="0.9"/>
<text x="195.50" y="365.73" text-anchor="end" class="t" font-size="9.9" fill="#404040">0.12</text>
<path d="M198.7,339.89h2.6M458.4,339.89h-2.6" stroke="#6a6a6a" stroke-width="0.9"/>
<text x="195.50" y="343.29" text-anchor="end" class="t" font-size="9.9" fill="#404040">0.14</text>
<path d="M198.7,317.44h2.6M458.4,317.44h-2.6" stroke="#6a6a6a" stroke-width="0.9"/>
<text x="195.50" y="320.84" text-anchor="end" class="t" font-size="9.9" fill="#404040">0.16</text>
<text x="328.70" y="524.0" letter-spacing="0.3" text-anchor="middle" class="t" font-size="9.8" fill="#404040">Ratio of missing observations</text>
<text transform="translate(171.60000000000002,396.30) rotate(-90)" text-anchor="middle" class="t" font-size="10.2" fill="#404040">MAPE</text>
<rect x="205.4" y="301.6" width="83.20" height="106.60" fill="#fff" stroke="#6a6a6a" stroke-width="0.9"/>
<path d="M208.00,308.30H231.70" stroke="#0f3a8a" stroke-width="1.5"/>
<rect x="218.10" y="306.55" width="3.50" height="3.50" fill="none" stroke="#0f3a8a" stroke-width="1.6"/>
<text x="234.10" y="311.40" class="l" font-size="8.6" fill="#111">AR</text>
<path d="M208.00,319.93H231.70" stroke="#761c86" stroke-width="1.5"/>
<circle cx="219.85" cy="319.93" r="2.1" fill="none" stroke="#761c86" stroke-width="1.6"/>
<text x="234.10" y="323.03" class="l" font-size="8.6" fill="#111">VAR</text>
<path d="M208.00,331.56H231.70" stroke="#e8141c" stroke-width="1.5"/>
<path d="M216.12,331.56L221.72,328.76L221.72,334.36Z" fill="none" stroke="#e8141c" stroke-width="1.6"/>
<text x="234.10" y="334.66" class="l" font-size="8.6" fill="#111">GP-VAR</text>
<path d="M208.00,343.19H231.70" stroke="#1aa7e0" stroke-width="1.5"/>
<path d="M223.58,343.19L217.98,340.39L217.98,345.99Z" fill="none" stroke="#1aa7e0" stroke-width="1.6"/>
<text x="234.10" y="346.29" class="l" font-size="8.6" fill="#111">G-VAR</text>
<path d="M208.00,354.82H231.70" stroke="#c41cc4" stroke-width="1.5"/>
<path d="M219.85,358.55L217.05,352.95L222.65,352.95Z" fill="none" stroke="#c41cc4" stroke-width="1.6"/>
<text x="234.10" y="357.92" class="l" font-size="8.6" fill="#111">Vertex-ARMA</text>
<path d="M208.00,366.45H231.70" stroke="#23603a" stroke-width="1.5"/>
<path d="M217.75,364.35L221.95,368.55M217.75,368.55L221.95,364.35" stroke="#23603a" stroke-width="1.6"/>
<text x="234.10" y="369.55" class="l" font-size="8.6" fill="#111">GraphTRSS</text>
<path d="M208.00,378.08H231.70" stroke="#3aa014" stroke-width="1.5"/>
<path d="M219.85,374.30L222.79,378.08L219.85,381.86L216.91,378.08Z" fill="none" stroke="#3aa014" stroke-width="1.6"/>
<text x="234.10" y="381.18" class="l" font-size="8.6" fill="#111">JWSS</text>
<path d="M208.00,389.71H231.70" stroke="#b01c3c" stroke-width="1.5"/>
<circle cx="219.85" cy="389.71" r="2.9" fill="#b01c3c"/>
<text x="234.10" y="392.81" class="l" font-size="8.6" fill="#111">JSNC-ARMA</text>
<path d="M208.00,401.34H231.70" stroke="#000000" stroke-width="1.5"/>
<path d="M219.85,397.61L217.05,403.21L222.65,403.21Z" fill="none" stroke="#000000" stroke-width="1.6"/>
<text x="234.10" y="404.44" class="l" font-size="8.6" fill="#111">JS-ARMA</text>
<text x="28.9" y="269" word-spacing="2.3" font-family="Liberation Serif, serif" font-size="23.5" fill="#000">(a) Molène weather data set</text>
<text x="387.5" y="269" word-spacing="1.6" font-family="Liberation Serif, serif" font-size="23.5" fill="#000">(b) COVID-19 data set</text>
<text x="191.2" y="559" word-spacing="2.3" font-family="Liberation Serif, serif" font-size="23.5" fill="#000">(c) NOAA weather data set</text>
</svg>
</body></html>
